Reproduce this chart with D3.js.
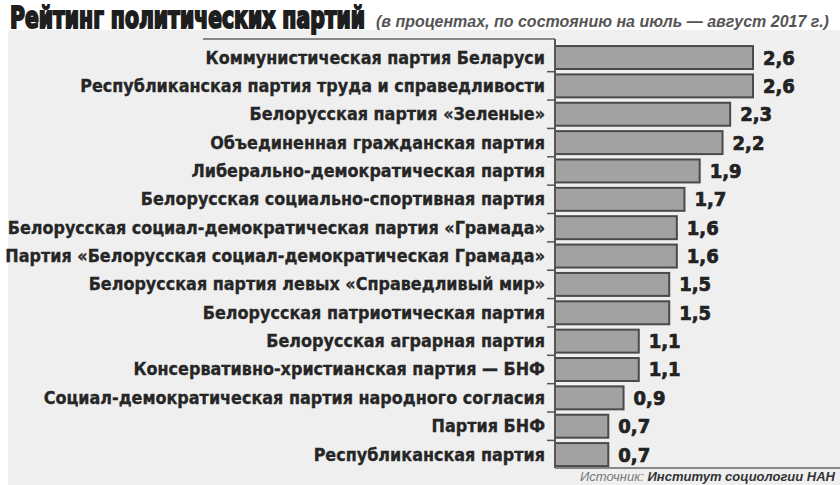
<!DOCTYPE html>
<html><head><meta charset="utf-8">
<script src="https://cdn.jsdelivr.net/npm/d3@7"></script>
<style>
html,body{margin:0;padding:0;background:#fff;}
svg{display:block;}
</style></head>
<body>
<svg id="chart" width="840" height="485"></svg>
<script>
const categories = [
  "Коммунистическая партия Беларуси",
  "Республиканская партия труда и справедливости",
  "Белорусская партия «Зеленые»",
  "Объединенная гражданская партия",
  "Либерально-демократическая партия",
  "Белорусская социально-спортивная партия",
  "Белорусская социал-демократическая партия «Грамада»",
  "Партия «Белорусская социал-демократическая Грамада»",
  "Белорусская партия левых «Справедливый мир»",
  "Белорусская патриотическая партия",
  "Белорусская аграрная партия",
  "Консервативно-христианская партия — БНФ",
  "Социал-демократическая партия народного согласия",
  "Партия БНФ",
  "Республиканская партия"
];
const values = [2.6, 2.6, 2.3, 2.2, 1.9, 1.7, 1.6, 1.6, 1.5, 1.5, 1.1, 1.1, 0.9, 0.7, 0.7];
const titleText = "Рейтинг политических партий";
const subtitleText = "(в процентах, по состоянию на июль — август 2017 г.)";
const sourceLabel = "Источник:";
const sourceText = " Институт социологии НАН";

const svg = d3.select("#chart");
const W = 840, H = 485;
const axisX = 555;
const FONT = "'Liberation Sans Narrow','DejaVu Sans Condensed','Arial Narrow',sans-serif";

// background panel
svg.append("rect").attr("x",0).attr("y",0).attr("width",W).attr("height",H).attr("fill","#ffffff");
svg.append("rect").attr("x",8).attr("y",30).attr("width",W-8).attr("height",H-30).attr("fill","#efefef");

const x = d3.scaleLinear().domain([0, 2.6]).range([axisX, 753]);
const y = d3.scaleBand().domain(categories).range([43.2, 468.9]).paddingInner(0.19).paddingOuter(0.1);

const ru = d3.formatLocale({decimal: ",", thousands: " ", grouping: [3], currency: ["", " руб."]});
const fmt = ru.format(".1f");

function fitText(sel, size, maxW) {
  sel.attr("font-size", size);
  const w = sel.node().getComputedTextLength();
  if (w > maxW) sel.attr("font-size", size * maxW / w);
}

// title (stretched vertically to mimic a heavy condensed face)
const titleG = svg.append("g").attr("transform", "translate(10,28) scale(1,1.3)");
const title = titleG.append("text")
  .attr("x", 0).attr("y", 0)
  .attr("font-family", FONT)
  .attr("font-weight", "bold")
  .attr("fill", "#1e1e1e")
  .attr("stroke", "#1e1e1e").attr("stroke-width", 1.5)
  .text(titleText);
fitText(title, 26, 355);

const sub = svg.append("text")
  .attr("x", 376).attr("y", 27)
  .attr("font-family", "'Liberation Sans','Arial',sans-serif")
  .attr("font-style", "italic")
  .attr("font-weight", "bold")
  .attr("fill", "#555")
  .text(subtitleText);
fitText(sub, 16, 456);

// top border line of label box
svg.append("line").attr("x1", 203).attr("x2", axisX).attr("y1", 39).attr("y2", 39)
  .attr("stroke", "#666").attr("stroke-width", 1.5);

// bars
svg.append("g").selectAll("rect").data(categories).join("rect")
  .attr("x", x(0))
  .attr("y", d => y(d))
  .attr("width", (d,i) => x(values[i]) - x(0))
  .attr("height", y.bandwidth())
  .attr("fill", "#a2a2a2")
  .attr("stroke", "#4a4a4a")
  .attr("stroke-width", 2);

// value labels
svg.append("g").selectAll("text").data(categories).join("text")
  .attr("x", (d,i) => x(values[i]) + 10)
  .attr("y", d => y(d) + y.bandwidth()/2 + 7)
  .attr("font-family", FONT)
  .attr("font-weight", "bold")
  .attr("font-size", 20)
  .attr("fill", "#222")
  .attr("stroke", "#222").attr("stroke-width", 0.7)
  .text((d,i) => fmt(values[i]));

// category labels
svg.append("g").selectAll("text").data(categories).join("text")
  .attr("x", 545)
  .attr("y", d => y(d) + y.bandwidth()/2 + 6)
  .attr("text-anchor", "end")
  .attr("font-family", FONT)
  .attr("font-weight", "bold")
  .attr("font-size", 17.8)
  .attr("fill", "#262626")
  .attr("stroke", "#262626").attr("stroke-width", 0.3)
  .text(d => d);

// ticks between bars
const gap = y.step() - y.bandwidth();
svg.append("g").selectAll("line").data(categories.slice(0, -1)).join("line")
  .attr("x1", axisX - 8).attr("x2", axisX)
  .attr("y1", d => y(d) + y.bandwidth() + gap/2)
  .attr("y2", d => y(d) + y.bandwidth() + gap/2)
  .attr("stroke", "#555").attr("stroke-width", 1.5);

// axes lines
svg.append("line").attr("x1", axisX).attr("x2", axisX).attr("y1", 39).attr("y2", 468)
  .attr("stroke", "#555").attr("stroke-width", 2);
svg.append("line").attr("x1", axisX).attr("x2", W).attr("y1", 468).attr("y2", 468)
  .attr("stroke", "#666").attr("stroke-width", 1.5);

// source
const src = svg.append("text")
  .attr("x", 835).attr("y", 481)
  .attr("text-anchor", "end")
  .attr("font-family", "'Liberation Sans','Arial',sans-serif")
  .attr("font-style", "italic")
  .attr("font-weight", "bold")
  .attr("font-size", 13)
  .attr("fill", "#333");
src.append("tspan").attr("fill", "#777").attr("font-weight", "normal").text(sourceLabel);
src.append("tspan").text(sourceText);
</script>
</body></html>
